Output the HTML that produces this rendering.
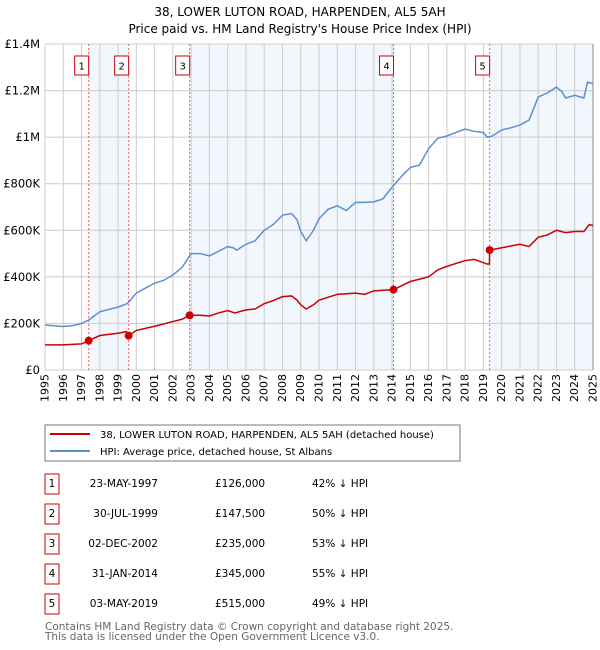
<!DOCTYPE html>
<html><head><meta charset="utf-8"><style>
body{margin:0;background:#fff;font-family:"Liberation Sans","DejaVu Sans",sans-serif;position:relative;width:600px;height:650px;overflow:hidden;}
svg text{font-family:"DejaVu Sans","Liberation Sans",sans-serif;}
.xt{position:absolute;font-family:"DejaVu Sans","Liberation Sans",sans-serif;font-size:11px;line-height:13px;width:13px;white-space:nowrap;writing-mode:vertical-rl;writing-mode:sideways-lr;color:#000;}
</style></head><body>
<svg id="chart" width="600" height="650" xmlns="http://www.w3.org/2000/svg" style="position:absolute;left:0;top:0">
<text x="300" y="16" font-size="12" text-anchor="middle">38, LOWER LUTON ROAD, HARPENDEN, AL5 5AH</text>
<text x="300" y="33" font-size="12" text-anchor="middle">Price paid vs. HM Land Registry's House Price Index (HPI)</text>
<g id="plot"></g>
<g>
<rect x="45" y="425" width="415" height="36" fill="#fff" stroke="#777"/>
<line x1="50" y1="434" x2="90" y2="434" stroke="#cc0000" stroke-width="2"/>
<text x="100" y="438" font-size="10">38, LOWER LUTON ROAD, HARPENDEN, AL5 5AH (detached house)</text>
<line x1="50" y1="451" x2="90" y2="451" stroke="#5b8fd4" stroke-width="2"/>
<text x="100" y="455" font-size="10">HPI: Average price, detached house, St Albans</text>
</g>
<g id="table"></g>
<text x="45" y="630" font-size="10.5" fill="#666">Contains HM Land Registry data © Crown copyright and database right 2025.</text>
<text x="45" y="640" font-size="10.5" fill="#666">This data is licensed under the Open Government Licence v3.0.</text>
</svg>
<div id="xlabels"></div>
<script>
const hpiYears=[1995,1995.5,1996,1996.5,1997,1997.4,1998,1998.5,1999,1999.5,2000,2000.5,2001,2001.5,2002,2002.5,2003,2003.5,2004,2004.5,2005,2005.3,2005.5,2006,2006.5,2007,2007.5,2008,2008.5,2008.8,2009,2009.3,2009.7,2010,2010.5,2011,2011.5,2012,2012.5,2013,2013.5,2014,2014.5,2015,2015.5,2016,2016.5,2017,2017.5,2018,2018.5,2019,2019.2,2019.5,2020,2020.5,2021,2021.5,2022,2022.5,2023,2023.3,2023.5,2024,2024.5,2024.7,2025];
const hpiValues=[193,190,187,190,200,215,250,260,270,285,330,352,373,385,408,440,500,500,490,510,530,525,515,540,555,600,625,665,672,645,595,555,600,650,690,705,685,720,720,722,735,785,830,870,880,950,995,1005,1020,1035,1025,1020,1000,1005,1031,1040,1052,1073,1172,1190,1215,1195,1168,1180,1168,1236,1230];
const ppYears=[1995,1996,1997,1997.39,1998,1999,1999.45,1999.58,2000,2001,2002,2002.5,2002.92,2003.5,2004,2004.5,2005,2005.4,2006,2006.5,2007,2007.5,2008,2008.5,2008.8,2009,2009.3,2009.7,2010,2011,2012,2012.5,2013,2014.08,2015,2016,2016.5,2017,2018,2018.5,2019.2,2019.33,2019.34,2020,2021,2021.5,2022,2022.5,2023,2023.5,2024,2024.5,2024.8,2025];
const ppValues=[108,108,112,126,148,158,165,147.5,170,188,208,218,235,235,232,245,255,245,258,262,285,298,315,318,300,280,262,280,300,325,330,325,340,345,380,400,430,445,470,475,455,455,515,525,540,530,570,580,600,590,595,595,625,620];
const saleYears=[1997.39,1999.58,2002.92,2014.08,2019.34];
const saleValues=[126,147.5,235,345,515];
const saleLabels=["1","2","3","4","5"];
const saleDates=["23-MAY-1997","30-JUL-1999","02-DEC-2002","31-JAN-2014","03-MAY-2019"];
const salePrices=["£126,000","£147,500","£235,000","£345,000","£515,000"];
const saleDiffs=["42% ↓ HPI","50% ↓ HPI","53% ↓ HPI","55% ↓ HPI","49% ↓ HPI"];
const yTicks=[0,200,400,600,800,1000,1200,1400];
const yTickLabels=["£0","£200K","£400K","£600K","£800K","£1M","£1.2M","£1.4M"];
const xTicks=[1995,1996,1997,1998,1999,2000,2001,2002,2003,2004,2005,2006,2007,2008,2009,2010,2011,2012,2013,2014,2015,2016,2017,2018,2019,2020,2021,2022,2023,2024,2025];

const X0=45,X1=593,Y0=370,Y1=44;
const sx=v=>X0+(v-1995)/30*(X1-X0);
const sy=v=>Y0-v/1400*(Y0-Y1);
const NS="http://www.w3.org/2000/svg";
const plot=document.getElementById('plot');
function mk(tag,attrs,parent){const e=document.createElementNS(NS,tag);for(const k in attrs)e.setAttribute(k,attrs[k]);(parent||plot).appendChild(e);return e;}

const bands=[[saleYears[0],saleYears[1]],[saleYears[2],saleYears[3]],[saleYears[4],2025]];
bands.forEach(b=>{const r=mk('rect',{x:sx(b[0]),y:Y1,width:sx(b[1])-sx(b[0]),height:Y0-Y1,fill:'#f2f6fd'});

});
const xl=document.getElementById('xlabels');
xTicks.forEach(t=>{const l=mk('line',{x1:sx(t),x2:sx(t),y1:Y1,y2:Y0,stroke:'#ccc','stroke-width':1});


const d=document.createElement('div');d.className='xt';d.style.left=(sx(t)-6.5)+'px';d.style.top=(Y0+4)+'px';d.textContent=t;


xl.appendChild(d);});
yTicks.forEach((t,i)=>{const l=mk('line',{x1:X0,x2:X1,y1:sy(t),y2:sy(t),stroke:'#ccc','stroke-width':1});


const tx=mk('text',{x:X0-5,y:sy(t)+4,'font-size':11.5,'text-anchor':'end'});tx.textContent=yTickLabels[i];

});
mk('line',{x1:X1,x2:X1,y1:Y1,y2:Y0,stroke:'#888','stroke-width':1});
saleYears.forEach((y,i)=>{const l=mk('line',{x1:sx(y),x2:sx(y),y1:Y1,y2:Y0,stroke:'#f06060','stroke-width':1,'stroke-dasharray':'2,2'});


const r=mk('rect',{x:sx(y)-14,y:56,width:14,height:19,fill:'#fff',stroke:'#cc0000'});


const t=mk('text',{x:sx(y)-7,y:69.5,'font-size':10,'text-anchor':'middle'});t.textContent=saleLabels[i];

});
const hp=mk('polyline',{points:hpiYears.map((y,i)=>sx(y)+','+sy(hpiValues[i])).join(' '),fill:'none',stroke:'#5b8fd4','stroke-width':1.5});


const pp=mk('polyline',{points:ppYears.map((y,i)=>sx(y)+','+sy(ppValues[i])).join(' '),fill:'none',stroke:'#cc0000','stroke-width':1.5});


saleYears.forEach((y,i)=>{const c=mk('circle',{cx:sx(y),cy:sy(saleValues[i]),r:4,fill:'#cc0000'});

});
const tb=document.getElementById('table');
saleLabels.forEach((s,i)=>{const cy=483+i*30;
const r=mk('rect',{x:45,y:cy-9,width:14,height:20,fill:'#fff',stroke:'#cc0000'},tb);


const cells=[[52,s,'middle'],[158,saleDates[i],'end'],[215,salePrices[i],'start'],[312,saleDiffs[i],'start']];
cells.forEach(c=>{const t=mk('text',{x:c[0],y:cy+4,'font-size':10.5,'text-anchor':c[2]},tb);t.textContent=c[1];

});});
</script>
</body></html>
